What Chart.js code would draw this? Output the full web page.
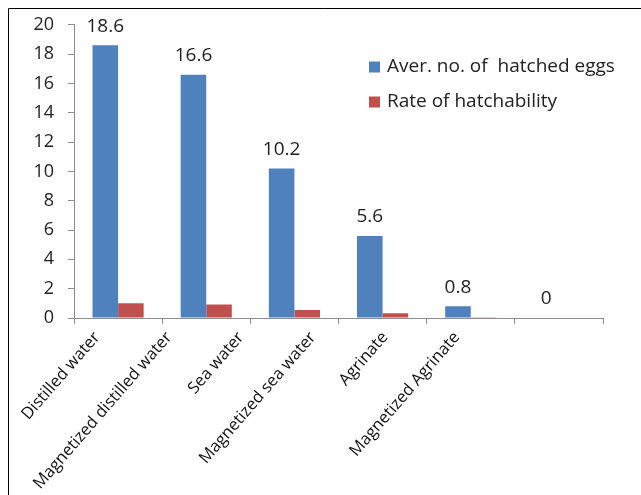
<!DOCTYPE html>
<html>
<head>
<meta charset="utf-8">
<script src="https://cdn.jsdelivr.net/npm/chart.js@4"></script>
<style>
  html, body { margin: 0; padding: 0; background: #fff; }
  #wrap { width: 641px; height: 495px; position: relative; }
</style>
</head>
<body>
<div id="wrap"><canvas id="c"></canvas></div>
<script>
// Hatching results per treatment medium
const categories = [
  'Distilled water',
  'Magnetized distilled water',
  'Sea water',
  'Magnetized sea water',
  'Agrinate',
  'Magnetized Agrinate'
];
const hatchedEggs = [18.6, 16.6, 10.2, 5.6, 0.8, 0];
const hatchRate = [1.0, 0.92, 0.55, 0.32, 0.05, 0];
const seriesNames = ['Aver. no. of  hatched eggs', 'Rate of hatchability'];
const yMin = 0, yMax = 20, yStep = 2;

const BLUE = '#4F81BD';
const RED = '#C0504D';
const FONT = '"Open Sans", "Liberation Sans", sans-serif';

// Thin frame along the left and top edges
const framePlugin = {
  id: 'frame',
  beforeDraw(chart) {
    const ctx = chart.ctx;
    ctx.save();
    ctx.strokeStyle = '#000';
    ctx.lineWidth = 1;
    ctx.beginPath();
    ctx.moveTo(8.5, chart.height);
    ctx.lineTo(8.5, 8.5);
    ctx.lineTo(chart.width, 8.5);
    ctx.stroke();
    ctx.restore();
  }
};

// Value labels above the first series
const valueLabels = {
  id: 'valueLabels',
  afterDatasetsDraw(chart) {
    const ctx = chart.ctx;
    const meta = chart.getDatasetMeta(0);
    ctx.save();
    ctx.font = '19px ' + FONT;
    ctx.fillStyle = '#222';
    ctx.textAlign = 'center';
    ctx.textBaseline = 'middle';
    meta.data.forEach((bar, i) => {
      ctx.fillText(String(hatchedEggs[i]), bar.x, bar.y - 19);
    });
    ctx.restore();
  }
};

// Legend drawn inside the plot area, upper right
const innerLegend = {
  id: 'innerLegend',
  afterDraw(chart) {
    const ctx = chart.ctx;
    const x = 369, y0 = 67, gap = 35, box = 11;
    ctx.save();
    ctx.font = '19px ' + FONT;
    ctx.textBaseline = 'middle';
    ctx.textAlign = 'left';
    chart.data.datasets.forEach((ds, i) => {
      const y = y0 + i * gap;
      ctx.fillStyle = ds.backgroundColor;
      ctx.fillRect(x, y - box / 2, box, box);
      ctx.fillStyle = '#222';
      ctx.fillText(ds.label, x + 18, y);
    });
    ctx.restore();
  }
};

new Chart(document.getElementById('c'), {
  type: 'bar',
  data: {
    labels: categories,
    datasets: [
      { label: seriesNames[0], data: hatchedEggs, backgroundColor: BLUE, xAxisID: 'x' },
      { label: seriesNames[1], data: hatchRate, backgroundColor: RED, xAxisID: 'x' }
    ]
  },
  options: {
    responsive: true,
    maintainAspectRatio: false,
    animation: false,
    layout: { padding: { top: 22, right: 38, left: 0, bottom: 0 } },
    datasets: { bar: { categoryPercentage: 0.58, barPercentage: 1.0 } },
    plugins: {
      legend: { display: false },
      tooltip: { enabled: false }
    },
    scales: {
      // category axis: bars, boundary tick marks
      x: {
        position: 'bottom',
        grid: { offset: true, drawOnChartArea: false, tickLength: 6, color: '#8c8c8c' },
        border: { color: '#8c8c8c' },
        ticks: { display: false },
        afterFit(s) { s.height = 6; }
      },
      // label row: slanted category names on a compressed spacing
      xNames: {
        type: 'linear',
        position: 'bottom',
        offset: false,
        min: -0.32,
        max: 7.03,
        grid: { display: false, offset: false },
        border: { display: false },
        afterBuildTicks(s) { s.ticks = categories.map((_, i) => ({ value: i })); },
        ticks: {
          maxRotation: 49, minRotation: 49, autoSkip: false,
          font: { size: 16.5, family: FONT }, color: '#111', padding: -4,
          callback: (v) => categories[v]
        },
        afterFit(s) { s.height = 171; }
      },
      y: {
        min: yMin, max: yMax,
        grid: { drawOnChartArea: false, tickLength: 6, color: '#8c8c8c' },
        border: { color: '#8c8c8c' },
        ticks: { stepSize: yStep, font: { size: 18, family: FONT }, color: '#222', padding: 14 },
        afterFit(s) { s.width = 74; }
      }
    }
  },
  plugins: [framePlugin, valueLabels, innerLegend]
});
</script>
</body>
</html>
